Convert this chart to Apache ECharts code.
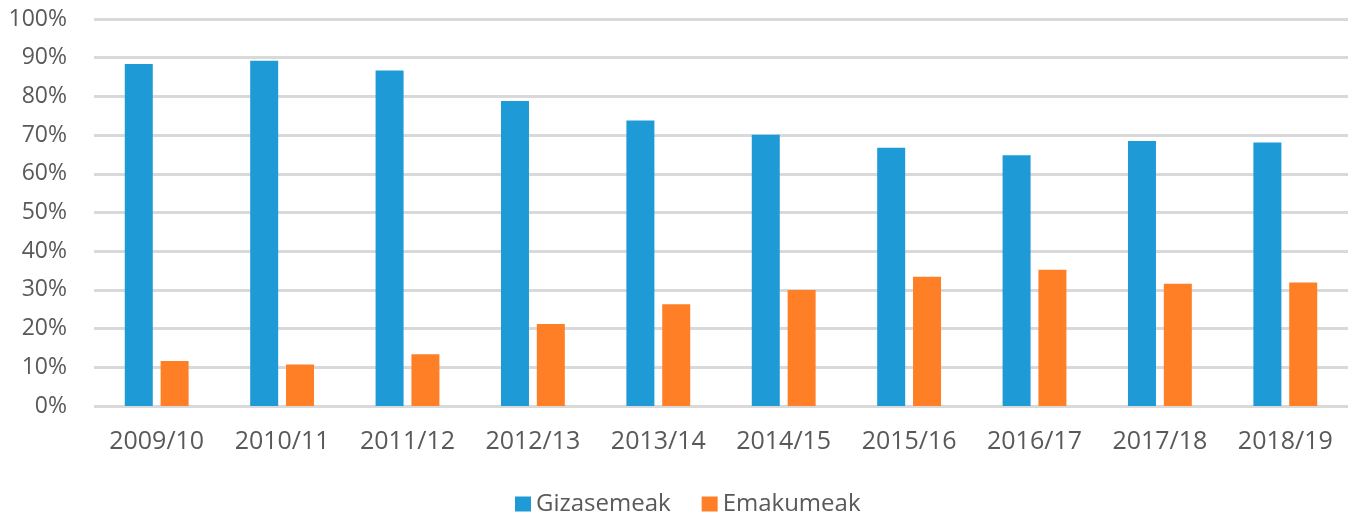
<!DOCTYPE html>
<html>
<head>
<meta charset="utf-8">
<script src="https://cdn.jsdelivr.net/npm/echarts@6/dist/echarts.min.js"></script>
<style>
html,body{margin:0;padding:0;background:#fff;}
#chart{width:1352px;height:516px;}
</style>
</head>
<body>
<div id="chart"></div>
<script>
var categories = ['2009/10','2010/11','2011/12','2012/13','2013/14','2014/15','2015/16','2016/17','2017/18','2018/19'];
var gizasemeak = [88.4, 89.2, 86.7, 78.8, 73.8, 70.1, 66.7, 64.8, 68.5, 68.1];
var emakumeak = [11.6, 10.7, 13.4, 21.2, 26.3, 30.0, 33.4, 35.2, 31.6, 31.9];
var seriesNames = ['Gizasemeak', 'Emakumeak'];

var chart = echarts.init(document.getElementById('chart'), null, {renderer: 'canvas'});
var font = '"Open Sans", "Noto Sans", sans-serif';
chart.setOption({
  animation: false,
  backgroundColor: '#ffffff',
  grid: {left: 94, right: 4, top: 19, bottom: 110, containLabel: false},
  legend: {
    data: seriesNames,
    left: 510,
    top: 487,
    itemWidth: 16,
    itemHeight: 15,
    itemGap: 31,
    icon: 'rect',
    textStyle: {color: '#595959', fontSize: 24, fontFamily: font}
  },
  xAxis: {
    type: 'category',
    data: categories,
    axisLine: {show: false},
    axisTick: {show: false},
    axisLabel: {color: '#595959', fontSize: 25, fontFamily: font, margin: 23}
  },
  yAxis: {
    type: 'value',
    min: 0,
    max: 100,
    interval: 10,
    axisLine: {show: false},
    axisTick: {show: false},
    axisLabel: {color: '#595959', fontSize: 23, fontFamily: font, margin: 27, formatter: '{value}%'},
    splitLine: {lineStyle: {color: '#d9d9d9', width: 3}}
  },
  series: [
    {name: seriesNames[0], type: 'bar', data: gizasemeak, barWidth: 28, barGap: '28%', itemStyle: {color: '#1E9BD7'}},
    {name: seriesNames[1], type: 'bar', data: emakumeak, barWidth: 28, barGap: '28%', itemStyle: {color: '#FF7F27'}}
  ]
});
</script>
</body>
</html>
